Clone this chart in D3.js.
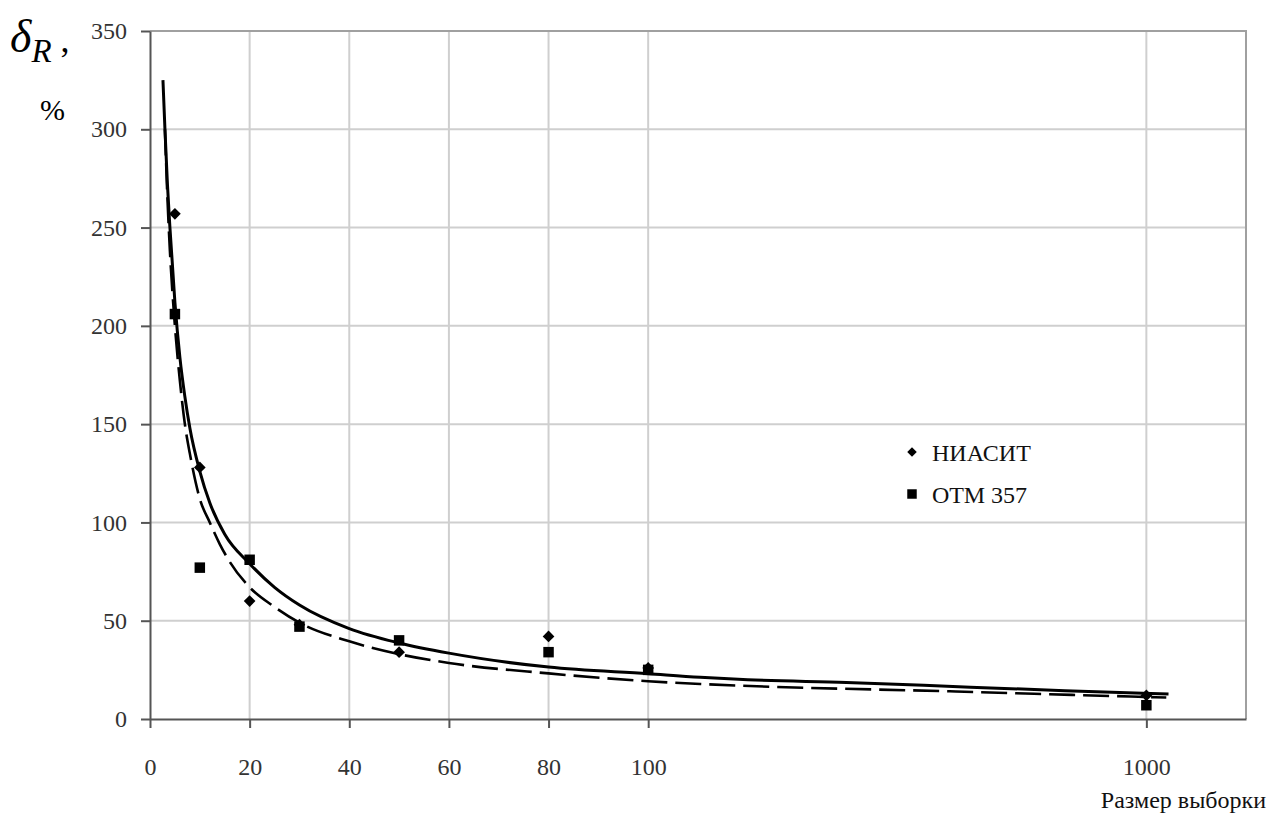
<!DOCTYPE html>
<html>
<head>
<meta charset="utf-8">
<script src="https://cdn.jsdelivr.net/npm/d3@7"></script>
<style>
  html, body { margin: 0; padding: 0; background: #fff; }
  svg { display: block; }
  svg text { font-family: "Liberation Serif", "DejaVu Serif", serif; }
</style>
</head>
<body>
<svg id="chart" width="1270" height="816"></svg>
<script>
// Sample sizes on the axis (1000 sits on a compressed segment after 100)
const xTicks = [0, 20, 40, 60, 80, 100, 1000];
const yTicks = [0, 50, 100, 150, 200, 250, 300, 350];

// Measured relative error, %
const niasitX = [5, 10, 20, 30, 50, 80, 100, 1000];
const niasitY = [257, 128, 60, 48, 34, 42, 26, 12];
const otmX = [5, 10, 20, 30, 50, 80, 100, 1000];
const otmY = [206, 77, 81, 47, 40, 34, 25, 7];

// Fitted trend curves (sample size, %)
const trendSolidX = [2.6, 3, 3.5, 4, 5, 6, 7, 8, 10, 12, 15, 20, 25, 30, 40, 50, 60, 80, 100, 194, 280, 458, 682, 853, 1040];
const trendSolidY = [325, 300, 272, 250, 212, 184, 164, 148, 126, 110, 94, 79, 67, 58, 46, 38.7, 33.5, 26.4, 23, 21.2, 20, 18.6, 16.2, 14.4, 12.7];
const trendDashX = [3, 3.5, 4, 5, 6, 7, 8, 10, 12, 14, 16, 20, 25, 30, 40, 50, 60, 80, 100, 194, 262, 656, 986, 1036];
const trendDashY = [300, 265, 238, 200, 172, 150, 135, 112, 100, 89, 80, 67, 57, 49, 39.5, 33, 28.5, 23.2, 19.2, 17.8, 17, 14, 11.3, 10.9];

const svg = d3.select("#chart");
const plotLeft = 150, plotRight = 1246, plotTop = 31, plotBottom = 719;

// Display units: 0..100 linear, then 100..1000 squeezed into 100 units
const unit = d3.scaleLinear().domain([0, 220]).range([plotLeft, plotRight]);
const x = d3.scaleLinear()
  .domain([0, 100, 1000, 1180])
  .range([unit(0), unit(100), unit(200), unit(220)]);
const y = d3.scaleLinear().domain([0, 350]).range([plotBottom, plotTop]);

// Gridlines
const grid = svg.append("g");
grid.selectAll("line.h").data(yTicks.filter(d => d > 0)).join("line").attr("class", "h")
  .attr("x1", plotLeft).attr("x2", plotRight)
  .attr("y1", d => y(d)).attr("y2", d => y(d))
  .attr("stroke", "#cfcfcf").attr("stroke-width", 2);
grid.selectAll("line.v").data(xTicks.filter(d => d > 0)).join("line").attr("class", "v")
  .attr("x1", d => x(d)).attr("x2", d => x(d))
  .attr("y1", plotTop).attr("y2", plotBottom)
  .attr("stroke", "#cfcfcf").attr("stroke-width", 2);

// Plot border (top/right)
svg.append("path")
  .attr("d", `M${plotLeft},${plotTop}H${plotRight}V${plotBottom}`)
  .attr("fill", "none").attr("stroke", "#a0a0a0").attr("stroke-width", 2);

// Axes
const yAxis = d3.axisLeft(y).tickValues(yTicks).tickSize(9).tickSizeOuter(0).tickPadding(14);
const xAxis = d3.axisBottom(x).tickValues(xTicks).tickFormat(d3.format("d"))
  .tickSize(9).tickSizeOuter(0).tickPadding(30);

const gy = svg.append("g").attr("transform", `translate(${plotLeft},0)`).call(yAxis);
const gx = svg.append("g").attr("transform", `translate(0,${plotBottom})`).call(xAxis);
[gy, gx].forEach(g => {
  g.attr("font-family", null).attr("font-size", 24);
  g.select(".domain").attr("stroke", "#555").attr("stroke-width", 2);
  g.selectAll(".tick line").attr("stroke", "#555").attr("stroke-width", 2);
  g.selectAll(".tick text").attr("fill", "#333");
});

// Trend curves
const line = d3.line().x(d => x(d[0])).y(d => y(d[1])).curve(d3.curveMonotoneX);
const dashPts = d3.zip(trendDashX, trendDashY);
const solidPts = d3.zip(trendSolidX, trendSolidY);
svg.append("path").datum(dashPts).attr("d", line)
  .attr("fill", "none").attr("stroke", "#000").attr("stroke-width", 2.6)
  .attr("stroke-dasharray", "26,8");
svg.append("path").datum(solidPts).attr("d", line)
  .attr("fill", "none").attr("stroke", "#000").attr("stroke-width", 3);

// Markers: squares, and squares turned 45° as diamonds
const square = d3.symbol().type(d3.symbolSquare).size(110);
const diamondShape = d3.symbol().type(d3.symbolSquare).size(68);
svg.append("g").selectAll("path").data(d3.zip(otmX, otmY)).join("path")
  .attr("d", square)
  .attr("transform", d => `translate(${x(d[0])},${y(d[1])})`)
  .attr("fill", "#000");
svg.append("g").selectAll("path").data(d3.zip(niasitX, niasitY)).join("path")
  .attr("d", diamondShape)
  .attr("transform", d => `translate(${x(d[0])},${y(d[1])}) rotate(45)`)
  .attr("fill", "#000");

// Legend
const legendSquare = d3.symbol().type(d3.symbolSquare).size(90);
const legendDiamond = d3.symbol().type(d3.symbolSquare).size(45);
const legend = svg.append("g").attr("transform", "translate(912,0)");
legend.append("path").attr("d", legendDiamond).attr("transform", "translate(0,452) rotate(45)").attr("fill", "#000");
legend.append("path").attr("d", legendSquare).attr("transform", "translate(0,494)").attr("fill", "#000");
legend.append("text").attr("x", 20).attr("y", 461).attr("font-size", 24).attr("fill", "#111").text("НИАСИТ");
legend.append("text").attr("x", 20).attr("y", 503).attr("font-size", 24).attr("fill", "#111").text("ОТМ 357");

// Axis titles
const yt = svg.append("text").attr("x", 10).attr("y", 52).attr("fill", "#000");
yt.append("tspan").attr("font-style", "italic").attr("font-size", 46).text("δ");
yt.append("tspan").attr("font-style", "italic").attr("font-size", 33).attr("dy", 10).text("R");
yt.append("tspan").attr("font-size", 36).attr("dy", -10).text(" ,");
svg.append("text").attr("x", 40).attr("y", 120).attr("font-size", 30).attr("fill", "#000").text("%");

svg.append("text").attr("x", 1266).attr("y", 808).attr("text-anchor", "end")
  .attr("font-size", 24).attr("fill", "#111").text("Размер выборки");
</script>
</body>
</html>
